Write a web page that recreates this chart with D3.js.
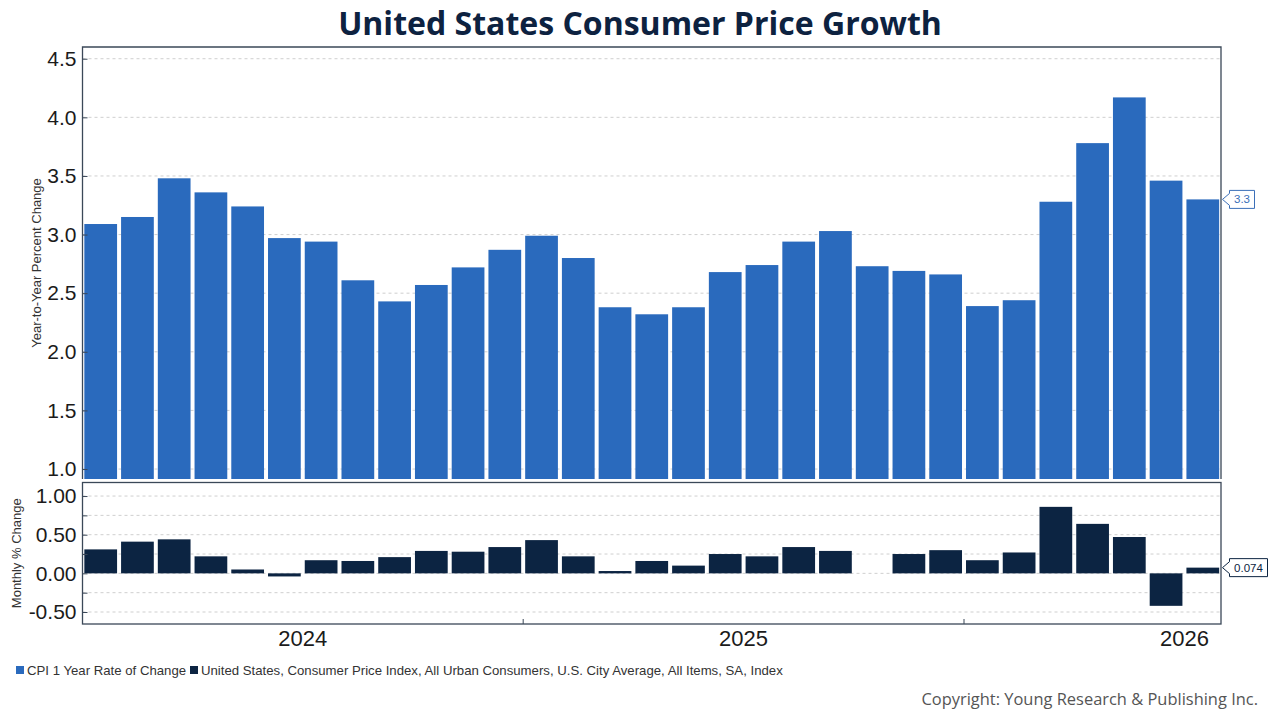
<!DOCTYPE html>
<html>
<head>
<meta charset="utf-8">
<script src="https://cdn.jsdelivr.net/npm/d3@7"></script>
<style>
  html, body { margin: 0; padding: 0; background: #fff; }
  svg { display: block; }
</style>
</head>
<body>
<div id="chart"></div>
<script>
// months shown on the x axis (Jan 2024 .. Jul 2026)
const months = [
  "2024-01","2024-02","2024-03","2024-04","2024-05","2024-06","2024-07","2024-08","2024-09","2024-10","2024-11","2024-12",
  "2025-01","2025-02","2025-03","2025-04","2025-05","2025-06","2025-07","2025-08","2025-09","2025-10","2025-11","2025-12",
  "2026-01","2026-02","2026-03","2026-04","2026-05","2026-06","2026-07"
];

// CPI 1 year rate of change (%)
const yoyValues = [
  3.09, 3.15, 3.48, 3.36, 3.24, 2.97, 2.94, 2.61, 2.43, 2.57, 2.72, 2.87,
  2.99, 2.80, 2.38, 2.32, 2.38, 2.68, 2.74, 2.94, 3.03, 2.73, 2.69, 2.66,
  2.39, 2.44, 3.28, 3.78, 4.17, 3.46, 3.30
];

// monthly % change of the CPI index (null = not published)
const momValues = [
  0.31, 0.41, 0.44, 0.22, 0.05, -0.04, 0.17, 0.16, 0.21, 0.29, 0.28, 0.34,
  0.43, 0.22, 0.03, 0.16, 0.10, 0.25, 0.22, 0.34, 0.29, null, 0.25, 0.30,
  0.17, 0.27, 0.86, 0.64, 0.47, -0.42, 0.074
];

const years = ["2024", "2025", "2026"];
const topTicks = [1.0, 1.5, 2.0, 2.5, 3.0, 3.5, 4.0, 4.5];
const bottomTicks = [-0.5, -0.25, 0, 0.25, 0.5, 0.75, 1.0];
const bottomLabels = [-0.5, 0, 0.5, 1.0];

const seriesNames = [
  "CPI 1 Year Rate of Change",
  "United States, Consumer Price Index, All Urban Consumers, U.S. City Average, All Items, SA, Index"
];

const width = 1280, height = 720;
const blue = "#2a6abd", navy = "#0c2442", frame = "#3b4858", grid = "#cfcfcf";
const axisFont = "'Liberation Sans', Arial, sans-serif";

const left = 82.5, right = 1221;
const top1 = 47, bottom1 = 479;
const top2 = 482.5, bottom2 = 624;

const svg = d3.select("#chart").append("svg")
  .attr("width", width)
  .attr("height", height);

const x = d3.scaleBand()
  .domain(months)
  .range([left, right])
  .paddingInner(0.109)
  .paddingOuter(0.05);

const y1 = d3.scaleLinear().domain([0.915, 4.6]).range([bottom1, top1]);
const y2 = d3.scaleLinear().domain([-0.655, 1.175]).range([bottom2, top2]);

// title
const title = svg.append("text")
  .attr("x", width / 2)
  .attr("y", 35)
  .attr("text-anchor", "middle")
  .attr("font-family", "'Open Sans', sans-serif")
  .attr("font-weight", 700)
  .attr("font-size", 28)
  .attr("fill", "#0d2240")
  .text("United States Consumer Price Growth");
// fit title to the width it has in the original
const tw = title.node().getComputedTextLength();
title.attr("font-size", 28 * 604 / tw);

// ---- top panel ----
const g1 = svg.append("g");

g1.append("g")
  .selectAll("line")
  .data(topTicks)
  .join("line")
  .attr("x1", left).attr("x2", right)
  .attr("y1", d => y1(d)).attr("y2", d => y1(d))
  .attr("stroke", grid)
  .attr("stroke-dasharray", "3,3");

g1.append("g")
  .selectAll("rect")
  .data(months.map((m, i) => ({m, v: yoyValues[i]})))
  .join("rect")
  .attr("x", d => x(d.m))
  .attr("width", x.bandwidth())
  .attr("y", d => y1(d.v))
  .attr("height", d => bottom1 - y1(d.v))
  .attr("fill", blue);

const axis1 = g1.append("g")
  .attr("transform", `translate(${left},0)`)
  .call(d3.axisLeft(y1).tickValues(topTicks).tickFormat(d3.format(".1f")).tickSize(-5).tickPadding(7));
axis1.select(".domain").remove();
axis1.selectAll(".tick line").attr("stroke", frame);
axis1.selectAll("text")
  .attr("font-family", axisFont)
  .attr("font-size", 21)
  .attr("fill", "#1b1b1b")
  .attr("x", -6);

g1.append("path")
  .attr("d", `M${left},${bottom1}V${top1}H${right}V${bottom1}`)
  .attr("fill", "none")
  .attr("stroke", frame)
  .attr("stroke-width", 1.3);

svg.append("text")
  .attr("transform", `translate(41,${(top1 + bottom1) / 2}) rotate(-90)`)
  .attr("text-anchor", "middle")
  .attr("font-family", axisFont)
  .attr("font-size", 13)
  .attr("fill", "#333")
  .text("Year-to-Year Percent Change");

// ---- bottom panel ----
const g2 = svg.append("g");

g2.append("g")
  .selectAll("line")
  .data(bottomTicks)
  .join("line")
  .attr("x1", left).attr("x2", right)
  .attr("y1", d => y2(d)).attr("y2", d => y2(d))
  .attr("stroke", grid)
  .attr("stroke-dasharray", "3,3");

g2.append("g")
  .selectAll("rect")
  .data(months.map((m, i) => ({m, v: momValues[i]})).filter(d => d.v !== null))
  .join("rect")
  .attr("x", d => x(d.m))
  .attr("width", x.bandwidth())
  .attr("y", d => y2(Math.max(0, d.v)))
  .attr("height", d => Math.abs(y2(d.v) - y2(0)))
  .attr("fill", navy);

const axis2 = g2.append("g")
  .attr("transform", `translate(${left},0)`)
  .call(d3.axisLeft(y2).tickValues(bottomTicks)
    .tickFormat(d => bottomLabels.includes(d) ? d3.format(".2f")(d).replace("−", "-") : "")
    .tickSize(-5).tickPadding(7));
axis2.select(".domain").remove();
axis2.selectAll(".tick line").attr("stroke", frame);
axis2.selectAll("text")
  .attr("font-family", axisFont)
  .attr("font-size", 21)
  .attr("fill", "#1b1b1b")
  .attr("x", -6);

// year ticks on the bottom edge
const step = x.step();
const gap = step - x.bandwidth();
const yearStart = yr => x(yr + "-01") - gap / 2;
g2.append("g")
  .selectAll("line")
  .data(years.slice(1))
  .join("line")
  .attr("x1", d => yearStart(d)).attr("x2", d => yearStart(d))
  .attr("y1", bottom2).attr("y2", bottom2 - 5)
  .attr("stroke", frame);

g2.append("g")
  .selectAll("text")
  .data(years)
  .join("text")
  .attr("x", d => yearStart(d) + 6 * step)
  .attr("y", bottom2 + 22)
  .attr("text-anchor", "middle")
  .attr("font-family", axisFont)
  .attr("font-size", 22)
  .attr("fill", "#1b1b1b")
  .text(d => d);

g2.append("rect")
  .attr("x", left).attr("y", top2)
  .attr("width", right - left).attr("height", bottom2 - top2)
  .attr("fill", "none")
  .attr("stroke", frame)
  .attr("stroke-width", 1.3);

svg.append("text")
  .attr("transform", `translate(21,${(top2 + bottom2) / 2}) rotate(-90)`)
  .attr("text-anchor", "middle")
  .attr("font-family", axisFont)
  .attr("font-size", 13)
  .attr("fill", "#333")
  .text("Monthly % Change");

// ---- last value callouts ----
function callout(yPos, label, color, boxW) {
  const x0 = right + 1.5, h = 18, p = 7;
  const g = svg.append("g");
  g.append("path")
    .attr("d", `M${x0},${yPos}L${x0 + p},${yPos - 6}V${yPos - h / 2}H${x0 + p + boxW}V${yPos + h / 2}H${x0 + p}V${yPos + 6}Z`)
    .attr("fill", "#fff")
    .attr("stroke", color)
    .attr("stroke-width", 1);
  g.append("text")
    .attr("x", x0 + p + boxW / 2)
    .attr("y", yPos + 4)
    .attr("text-anchor", "middle")
    .attr("font-family", axisFont)
    .attr("font-size", 11.5)
    .attr("fill", color)
    .text(label);
}
callout(y1(yoyValues[yoyValues.length - 1]), d3.format(".1f")(yoyValues[yoyValues.length - 1]), "#3b6fb8", 25);
callout(y2(momValues[momValues.length - 1]), String(momValues[momValues.length - 1]), navy, 38);

// ---- legend ----
const legendX = [16, 190];
const legendColors = [blue, navy];
const legend = svg.append("g")
  .selectAll("g")
  .data(seriesNames)
  .join("g")
  .attr("transform", (d, i) => `translate(${legendX[i]},666)`);
legend.append("rect")
  .attr("width", 8).attr("height", 8)
  .attr("fill", (d, i) => legendColors[i]);
legend.append("text")
  .attr("x", 11)
  .attr("y", 8.5)
  .attr("font-family", axisFont)
  .attr("font-size", 13.2)
  .attr("fill", "#333")
  .text(d => d);

// copyright
const copy = svg.append("text")
  .attr("x", 1258)
  .attr("y", 705)
  .attr("text-anchor", "end")
  .attr("font-family", "'Open Sans', sans-serif")
  .attr("font-size", 16)
  .attr("fill", "#555")
  .text("Copyright: Young Research & Publishing Inc.");
const cw = copy.node().getComputedTextLength();
copy.attr("font-size", 16 * 337 / cw);
</script>
</body>
</html>
